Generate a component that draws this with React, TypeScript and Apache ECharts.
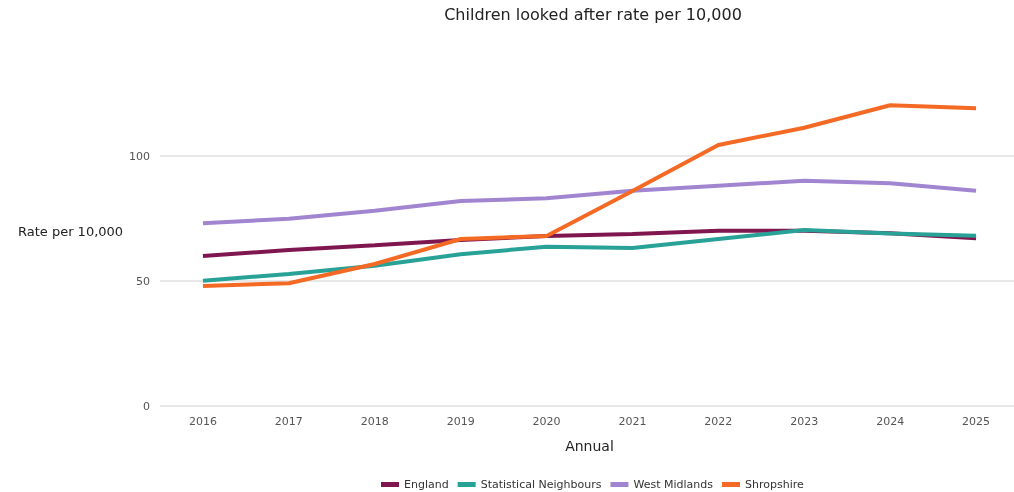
import React, { useEffect, useRef } from "react";
import * as echarts from "echarts";

const years = ["2016", "2017", "2018", "2019", "2020", "2021", "2022", "2023", "2024", "2025"];
const england = [60, 62.4, 64.3, 66.4, 68, 68.8, 70.1, 70.1, 69.1, 67.1];
const statisticalNeighbours = [50.1, 52.8, 56.1, 60.7, 63.7, 63.2, 66.8, 70.4, 69, 68.1];
const westMidlands = [73.1, 74.9, 78.1, 82, 83.1, 86.1, 88.1, 90.1, 89.1, 86.1];
const shropshire = [48, 49.1, 56.8, 66.8, 68, 86, 104.4, 111.3, 120.3, 119.1];

const seriesDefs = [
  { name: "England", data: england, color: "#801650" },
  { name: "Statistical Neighbours", data: statisticalNeighbours, color: "#28A197" },
  { name: "West Midlands", data: westMidlands, color: "#A285D1" },
  { name: "Shropshire", data: shropshire, color: "#F46A25" },
];

const FONT = "DejaVu Sans";

export default function App() {
  const ref = useRef<HTMLDivElement>(null);

  useEffect(() => {
    if (!ref.current) return;
    const chart = echarts.init(ref.current, undefined, { renderer: "svg" });
    chart.setOption({
      animation: false,
      textStyle: { fontFamily: FONT },
      title: {
        text: "Children looked after rate per 10,000",
        left: 588,
        top: 1,
        textAlign: "center",
        textStyle: { fontFamily: FONT, fontSize: 16, fontWeight: "normal", color: "#222" },
      },
      grid: { left: 160, right: 5, top: 56, bottom: 86 },
      legend: {
        bottom: -3,
        left: 376,
        orient: "horizontal",
        icon: "rect",
        itemWidth: 18,
        itemHeight: 5,
        itemGap: 9,
        textStyle: { fontFamily: FONT, fontSize: 11, color: "#333" },
        data: seriesDefs.map((s) => s.name),
      },
      xAxis: {
        type: "category",
        data: years,
        boundaryGap: true,
        name: "Annual",
        nameLocation: "middle",
        nameGap: 33,
        nameTextStyle: { fontFamily: FONT, fontSize: 14, color: "#222" },
        axisLine: { show: false },
        axisTick: { show: false },
        axisLabel: { fontFamily: FONT, fontSize: 11, color: "#555", margin: 10 },
      },
      yAxis: {
        type: "value",
        min: 0,
        max: 140,
        interval: 50,
        name: "Rate per 10,000",
        nameLocation: "middle",
        nameRotate: 0,
        nameGap: 35,
        nameTextStyle: { fontFamily: FONT, fontSize: 13, color: "#222", padding: [0, 0, 4, 0] },
        axisLine: { show: false },
        axisTick: { show: false },
        axisLabel: { fontFamily: FONT, fontSize: 11, color: "#555", margin: 10, showMaxLabel: false },
        splitLine: {
          lineStyle: { color: ["#e0e0e0", "#e0e0e0", "#e0e0e0", "rgba(0,0,0,0)"], width: 1.5 },
        },
      },
      series: seriesDefs.map((s) => ({
        name: s.name,
        type: "line",
        data: s.data,
        symbol: "none",
        color: s.color,
        lineStyle: { width: 4, color: s.color },
      })),
    });
    return () => chart.dispose();
  }, []);

  return (
    <div
      ref={ref}
      style={{ position: "fixed", left: 0, top: 0, width: 1024, height: 492 }}
    />
  );
}
